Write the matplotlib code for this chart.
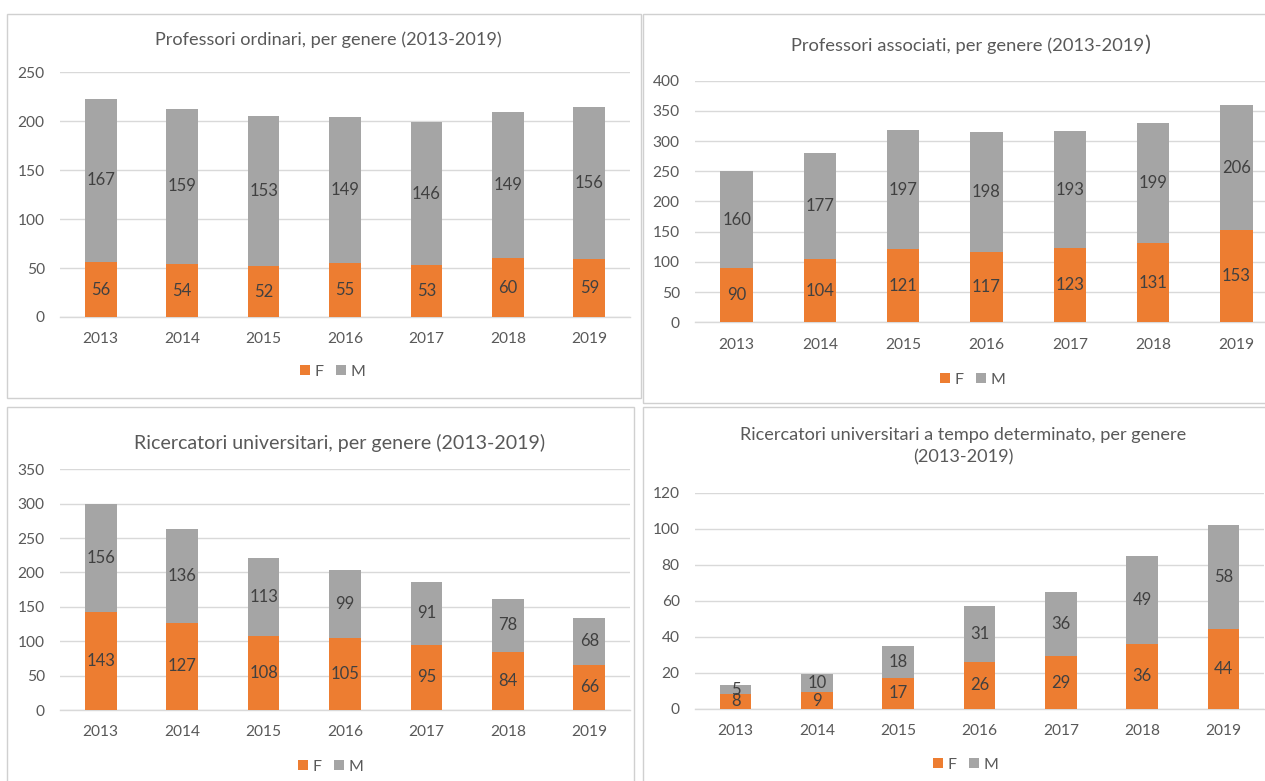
import matplotlib.pyplot as plt
from matplotlib.patches import Rectangle

plt.rcParams['font.family'] = ['Lato', 'DejaVu Sans']

years = ['2013', '2014', '2015', '2016', '2017', '2018', '2019']

ordinari_f = [56, 54, 52, 55, 53, 60, 59]
ordinari_m = [167, 159, 153, 149, 146, 149, 156]

associati_f = [90, 104, 121, 117, 123, 131, 153]
associati_m = [160, 177, 197, 198, 193, 199, 206]

ricercatori_f = [143, 127, 108, 105, 95, 84, 66]
ricercatori_m = [156, 136, 113, 99, 91, 78, 68]

rtd_f = [8, 9, 17, 26, 29, 36, 44]
rtd_m = [5, 10, 18, 31, 36, 49, 58]

ORANGE = '#ED7D31'
GRAY = '#A5A5A5'
GRID = '#D9D9D9'
TICK = '#595959'
LABEL = '#404040'

W, H = 1265, 781
fig = plt.figure(figsize=(W / 100, H / 100), dpi=100)
fig.patch.set_facecolor('white')


def px_axes(x0, x1, ytop, ybot):
    # axes from pixel box (origin top-left)
    return fig.add_axes([x0 / W, (H - ybot) / H, (x1 - x0) / W, (ybot - ytop) / H])


def panel(x0, y0, x1, y1):
    fig.patches.append(Rectangle((x0 / W, (H - y1) / H), (x1 - x0) / W, (y1 - y0) / H,
                                 transform=fig.transFigure, fill=False,
                                 edgecolor='#D0D0D0', linewidth=1.0, zorder=0))


def stacked(ax, f, m, ymax, step, legend_xy):
    x = list(range(len(years)))
    bw = 0.39
    bf = ax.bar(x, f, width=bw, color=ORANGE, label='F', zorder=3)
    bm = ax.bar(x, m, width=bw, bottom=f, color=GRAY, label='M', zorder=3)
    for i in x:
        ax.text(i, f[i] / 2, str(f[i]), ha='center', va='center',
                fontsize=12, color=LABEL, zorder=4)
        ax.text(i, f[i] + m[i] / 2, str(m[i]), ha='center', va='center',
                fontsize=12, color=LABEL, zorder=4)
    ax.set_xlim(-0.5, len(years) - 0.5)
    ax.set_ylim(0, ymax)
    ax.set_yticks(range(0, ymax + 1, step))
    ax.set_xticks(x)
    ax.set_xticklabels(years)
    ax.grid(axis='y', color=GRID, linewidth=1.0, zorder=0)
    ax.set_axisbelow(True)
    for s in ['top', 'right', 'left']:
        ax.spines[s].set_visible(False)
    ax.spines['bottom'].set_color(GRID)
    ax.spines['bottom'].set_linewidth(1.0)
    ax.tick_params(axis='both', length=0, labelsize=11.2, labelcolor=TICK)
    ax.tick_params(axis='y', pad=11)
    ax.tick_params(axis='x', pad=11)
    ax.set_facecolor('none')
    lx, ly = legend_xy
    ax.legend(handles=[bf, bm], loc='center', ncol=2, frameon=False,
              bbox_to_anchor=(lx / W, (H - ly) / H), bbox_transform=fig.transFigure,
              handlelength=0.6, handleheight=0.6, handletextpad=0.3,
              columnspacing=0.8, fontsize=11.5, labelcolor=TICK)


panel(7.5, 13.5, 641, 397.5)
panel(643.5, 13.5, 1275, 403)
panel(7.5, 407, 634, 800)
panel(643.5, 407, 1275, 800)

ax1 = px_axes(60, 630, 72.3, 317)
stacked(ax1, ordinari_f, ordinari_m, 250, 50, (333, 372))
fig.text(328 / W, (H - 40) / H, 'Professori ordinari, per genere (2013-2019)',
         ha='center', va='center', fontsize=13.1, color=TICK)

ax2 = px_axes(695, 1278, 80.7, 322.3)
stacked(ax2, associati_f, associati_m, 400, 50, (973, 380))
fig.text(1144 / W, (H - 46) / H, 'Professori associati, per genere (2013-2019',
         ha='right', va='center', fontsize=13.2, color=TICK)
fig.text(1144.5 / W, (H - 45) / H, ')',
         ha='left', va='center', fontsize=16, color=TICK)

ax3 = px_axes(60, 630, 469.3, 710)
stacked(ax3, ricercatori_f, ricercatori_m, 350, 50, (331, 767))
fig.text(340 / W, (H - 443) / H, 'Ricercatori universitari, per genere (2013-2019)',
         ha='center', va='center', fontsize=14.1, color=TICK)

ax4 = px_axes(695, 1264, 492.5, 708.7)
stacked(ax4, rtd_f, rtd_m, 120, 20, (966, 765))
fig.text(963 / W, (H - 446) / H,
         'Ricercatori universitari a tempo determinato, per genere\n(2013-2019)',
         ha='center', va='center', fontsize=13.1, color=TICK, linespacing=1.5)

fig.savefig('out.png', dpi=100, facecolor='white')
